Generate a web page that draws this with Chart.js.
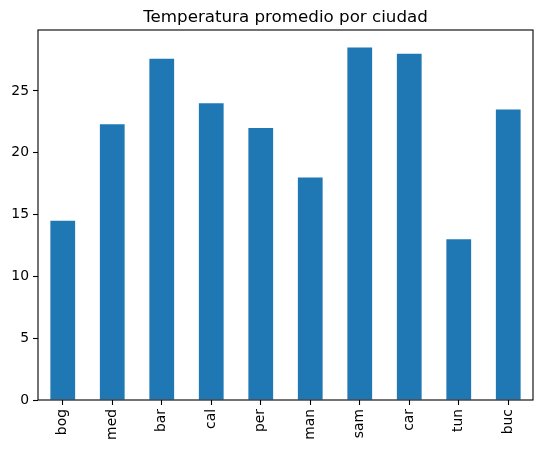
<!DOCTYPE html>
<html>
<head>
<meta charset="utf-8">
<script src="https://cdn.jsdelivr.net/npm/chart.js@4/dist/chart.umd.min.js"></script>
<style>
  html, body { margin: 0; padding: 0; background: #fff; }
  #wrap { width: 543px; height: 450px; }
</style>
</head>
<body>
<div id="wrap"><canvas id="grafico"></canvas></div>
<script>
// datos
var ciudades = ['bog', 'med', 'bar', 'cal', 'per', 'man', 'sam', 'car', 'tun', 'buc'];
var temperaturas = [14.5, 22.3, 27.6, 24, 22, 18, 28.5, 28, 13, 23.5];
var ticksY = [0, 5, 10, 15, 20, 25];
var titulo = 'Temperatura promedio por ciudad';

// marco negro alrededor del area de dibujo + titulo centrado sobre los ejes (como matplotlib)
var marco = {
    id: 'marco',
    afterDatasetsDraw: function(chart) {
        var a = chart.chartArea;
        var ctx = chart.ctx;
        ctx.save();
        ctx.strokeStyle = '#000';
        ctx.lineWidth = 1.1;
        ctx.strokeRect(a.left, a.top, a.right - a.left, a.bottom - a.top);
        ctx.fillStyle = '#000';
        ctx.font = '16.7px "DejaVu Sans"';
        ctx.textAlign = 'center';
        ctx.textBaseline = 'alphabetic';
        ctx.fillText(titulo, (a.left + a.right) / 2, a.top - 8);
        ctx.restore();
    }
};

var ctx = document.getElementById('grafico').getContext('2d');
new Chart(ctx, {
    type: 'bar',
    data: {
        labels: ciudades,
        datasets: [{
            data: temperaturas,
            backgroundColor: '#1f77b4',
            borderWidth: 0,
            barPercentage: 0.5,
            categoryPercentage: 1.0
        }]
    },
    options: {
        responsive: true,
        maintainAspectRatio: false,
        animation: false,
        events: [],
        layout: { padding: { left: 0, right: 10, top: 30, bottom: 0 } },
        plugins: {
            legend: { display: false },
            tooltip: { enabled: false },
            title: { display: false }
        },
        scales: {
            x: {
                offset: true,
                grid: { display: true, offset: false, drawOnChartArea: false, color: '#000', tickLength: 5, tickWidth: 1.1 },
                border: { display: false },
                ticks: {
                    color: '#000',
                    minRotation: 90,
                    maxRotation: 90,
                    padding: 4,
                    font: { family: 'DejaVu Sans', size: 13.9 }
                },
                afterFit: function(scale) { scale.height = 50; }
            },
            y: {
                min: 0,
                max: Math.max.apply(null, temperaturas) * 1.05,
                grid: { display: true, drawOnChartArea: false, color: '#000', tickLength: 5, tickWidth: 1.1 },
                border: { display: false },
                afterBuildTicks: function(scale) {
                    scale.ticks = ticksY.map(function(v) { return { value: v }; });
                },
                ticks: {
                    color: '#000',
                    padding: 4,
                    font: { family: 'DejaVu Sans', size: 13.9 }
                },
                afterFit: function(scale) { scale.width = 38; }
            }
        }
    },
    plugins: [marco]
});
</script>
</body>
</html>
